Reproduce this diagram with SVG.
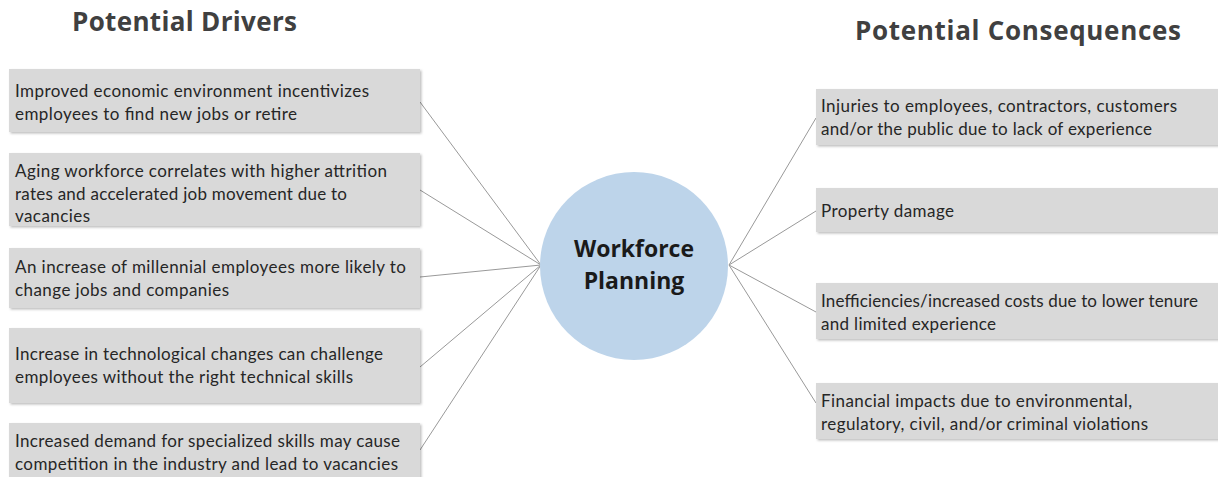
<svg xmlns="http://www.w3.org/2000/svg" width="1218" height="477" viewBox="0 0 1218 477">
<style>
.box{fill:#d9d9d9;filter:url(#sh)}
.t{font-family:Lato,"Liberation Sans",sans-serif;font-size:17px;fill:#262626}
.h{font-family:"Open Sans","Liberation Sans",sans-serif;font-size:26px;font-weight:bold;fill:#404040}
.c{font-family:"Open Sans","Liberation Sans",sans-serif;font-size:23px;font-weight:bold;fill:#1a1a1a;text-anchor:middle}
.ln{stroke:#999;stroke-width:1;fill:none}
</style>
<defs>
<filter id="sh" x="-5%" y="-10%" width="110%" height="130%">
<feDropShadow dx="1.5" dy="1.5" stdDeviation="0.8" flood-color="#000" flood-opacity="0.25"/>
</filter>
</defs>
<rect width="1218" height="477" fill="#fff"/>
<text class="h" x="72" y="31" textLength="225">Potential Drivers</text>
<text class="h" x="855" y="40" textLength="326">Potential Consequences</text>
<g id="connectors">
<line class="ln" x1="420" y1="102" x2="541" y2="265"/>
<line class="ln" x1="420" y1="190" x2="541" y2="265"/>
<line class="ln" x1="420" y1="277" x2="541" y2="265"/>
<line class="ln" x1="420" y1="367" x2="541" y2="265"/>
<line class="ln" x1="420" y1="450" x2="541" y2="265"/>
<line class="ln" x1="729" y1="265" x2="816" y2="118"/>
<line class="ln" x1="729" y1="265" x2="816" y2="211"/>
<line class="ln" x1="729" y1="265" x2="816" y2="312"/>
<line class="ln" x1="729" y1="265" x2="816" y2="403"/>
</g>
<g id="center">
<circle cx="634" cy="266" r="94" fill="#bdd4ea"/>
<text class="c" x="634" y="257" textLength="120">Workforce</text>
<text class="c" x="634" y="289">Planning</text>
</g>
<g id="d1"><rect class="box" x="9" y="69" width="411" height="63"/>
<text class="t" x="15" y="97" textLength="354">Improved economic environment incentivizes</text>
<text class="t" x="15" y="120" textLength="282">employees to find new jobs or retire</text></g>
<g id="d2"><rect class="box" x="9" y="153" width="411" height="73"/>
<text class="t" x="15" y="177" textLength="372">Aging workforce correlates with higher attrition</text>
<text class="t" x="15" y="200" textLength="332">rates and accelerated job movement due to</text>
<text class="t" x="15" y="222" textLength="75">vacancies</text></g>
<g id="d3"><rect class="box" x="9" y="248" width="411" height="60"/>
<text class="t" x="15" y="273" textLength="391">An increase of millennial employees more likely to</text>
<text class="t" x="15" y="296" textLength="214">change jobs and companies</text></g>
<g id="d4"><rect class="box" x="9" y="328" width="411" height="75"/>
<text class="t" x="15" y="360" textLength="368">Increase in technological changes can challenge</text>
<text class="t" x="15" y="383" textLength="338">employees without the right technical skills</text></g>
<g id="d5"><rect class="box" x="9" y="423" width="411" height="60"/>
<text class="t" x="15" y="447" textLength="385">Increased demand for specialized skills may cause</text>
<text class="t" x="15" y="470" textLength="383">competition in the industry and lead to vacancies</text></g>
<g id="c1"><rect class="box" x="816" y="89" width="410" height="56"/>
<text class="t" x="821" y="112" textLength="356">Injuries to employees, contractors, customers</text>
<text class="t" x="821" y="135" textLength="331">and/or the public due to lack of experience</text></g>
<g id="c2"><rect class="box" x="816" y="188" width="410" height="44"/>
<text class="t" x="821" y="217" textLength="133">Property damage</text></g>
<g id="c3"><rect class="box" x="816" y="283" width="410" height="56"/>
<text class="t" x="821" y="307" textLength="377">Inefficiencies/increased  costs due to lower tenure</text>
<text class="t" x="821" y="330" textLength="175">and limited experience</text></g>
<g id="c4"><rect class="box" x="816" y="383" width="410" height="56"/>
<text class="t" x="821" y="407" textLength="311">Financial impacts due to environmental,</text>
<text class="t" x="821" y="430" textLength="327">regulatory, civil, and/or criminal violations</text></g>
</svg>
